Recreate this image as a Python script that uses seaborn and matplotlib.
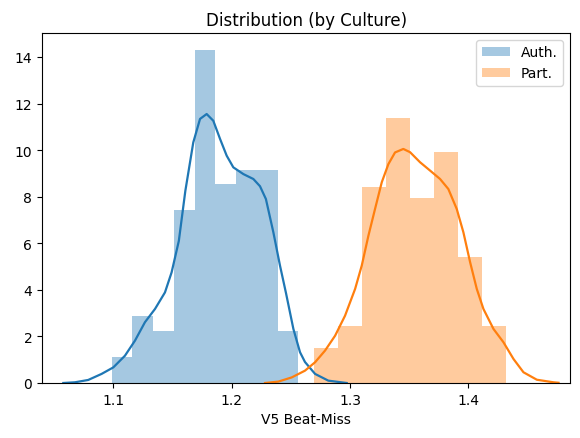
import numpy as np
import pandas as pd
import matplotlib
matplotlib.use("Agg")
import matplotlib.pyplot as plt
from matplotlib.patches import Patch
import seaborn as sns

# histogram bin edges and density heights
auth_edges = [1.0988, 1.1163, 1.1338, 1.1513, 1.1688, 1.1864, 1.2039, 1.2214, 1.2389, 1.2564]
auth_heights = [1.13, 2.89, 2.25, 7.44, 14.30, 8.54, 9.16, 9.16, 2.25]

part_edges = [1.2699, 1.2902, 1.3104, 1.3307, 1.3510, 1.3712, 1.3915, 1.4117, 1.4320]
part_heights = [1.49, 2.46, 8.40, 11.38, 7.93, 9.93, 5.42, 2.46]

# KDE curves
auth_kde_x = [1.0580, 1.0678, 1.0790, 1.0903, 1.1002, 1.1100, 1.1185, 1.1269, 1.1354,
              1.1438, 1.1494, 1.1555, 1.1610, 1.1677, 1.1734, 1.1790, 1.1846, 1.1903,
              1.1959, 1.2015, 1.2100, 1.2184, 1.2240, 1.2290, 1.2353, 1.2409, 1.2460,
              1.2522, 1.2578, 1.2620, 1.2705, 1.2817, 1.2972]
auth_kde_y = [0.00, 0.03, 0.13, 0.39, 0.67, 1.17, 1.82, 2.61, 3.18,
              3.89, 4.75, 6.10, 8.25, 10.33, 11.34, 11.55, 11.26, 10.48,
              9.76, 9.26, 8.97, 8.76, 8.45, 7.90, 6.47, 5.04, 3.85,
              2.32, 1.32, 0.90, 0.39, 0.10, 0.00]

part_kde_x = [1.2283, 1.2395, 1.2508, 1.2620, 1.2705, 1.2789, 1.2874, 1.2958, 1.3043,
              1.3099, 1.3155, 1.3211, 1.3268, 1.3324, 1.3380, 1.3450, 1.3507, 1.3591,
              1.3676, 1.3760, 1.3830, 1.3901, 1.3957, 1.4014, 1.4070, 1.4126, 1.4211,
              1.4295, 1.4380, 1.4464, 1.4577, 1.4717, 1.4760]
part_kde_y = [0.00, 0.06, 0.24, 0.53, 0.89, 1.39, 2.03, 2.89, 4.04,
              5.04, 6.32, 7.47, 8.62, 9.40, 9.90, 10.05, 9.91, 9.48,
              9.12, 8.76, 8.33, 7.47, 6.47, 5.18, 4.04, 3.18, 2.32,
              1.75, 1.03, 0.46, 0.14, 0.03, 0.01]

labels = ["Auth.", "Part."]
colors = ["#1f77b4", "#ff7f0e"]

fig = plt.figure(figsize=(5.8, 4.39), dpi=100)
ax = fig.add_axes([0.0724, 0.1253, 0.9106, 0.7973])

for edges, heights, kx, ky, col in [
    (auth_edges, auth_heights, auth_kde_x, auth_kde_y, colors[0]),
    (part_edges, part_heights, part_kde_x, part_kde_y, colors[1]),
]:
    centers = [(a + b) / 2 for a, b in zip(edges[:-1], edges[1:])]
    sns.histplot(x=centers, weights=heights, bins=edges, stat="count",
                 color=col, alpha=0.4, linewidth=0, edgecolor="none", ax=ax)
    sns.lineplot(x=kx, y=ky, color=col, linewidth=1.6, ax=ax, estimator=None, sort=False)

ax.set_xlim(1.0400, 1.4858)
ax.set_ylim(0, 15.03)
ax.set_xticks([1.1, 1.2, 1.3, 1.4])
ax.set_yticks(range(0, 15, 2))
ax.set_xlabel("V5 Beat-Miss")
ax.set_ylabel("")
ax.set_title("Distribution (by Culture)")

handles = [Patch(facecolor=c, alpha=0.4, label=l) for c, l in zip(colors, labels)]
ax.legend(handles=handles, loc="upper right")

fig.savefig("out.png", dpi=100)
